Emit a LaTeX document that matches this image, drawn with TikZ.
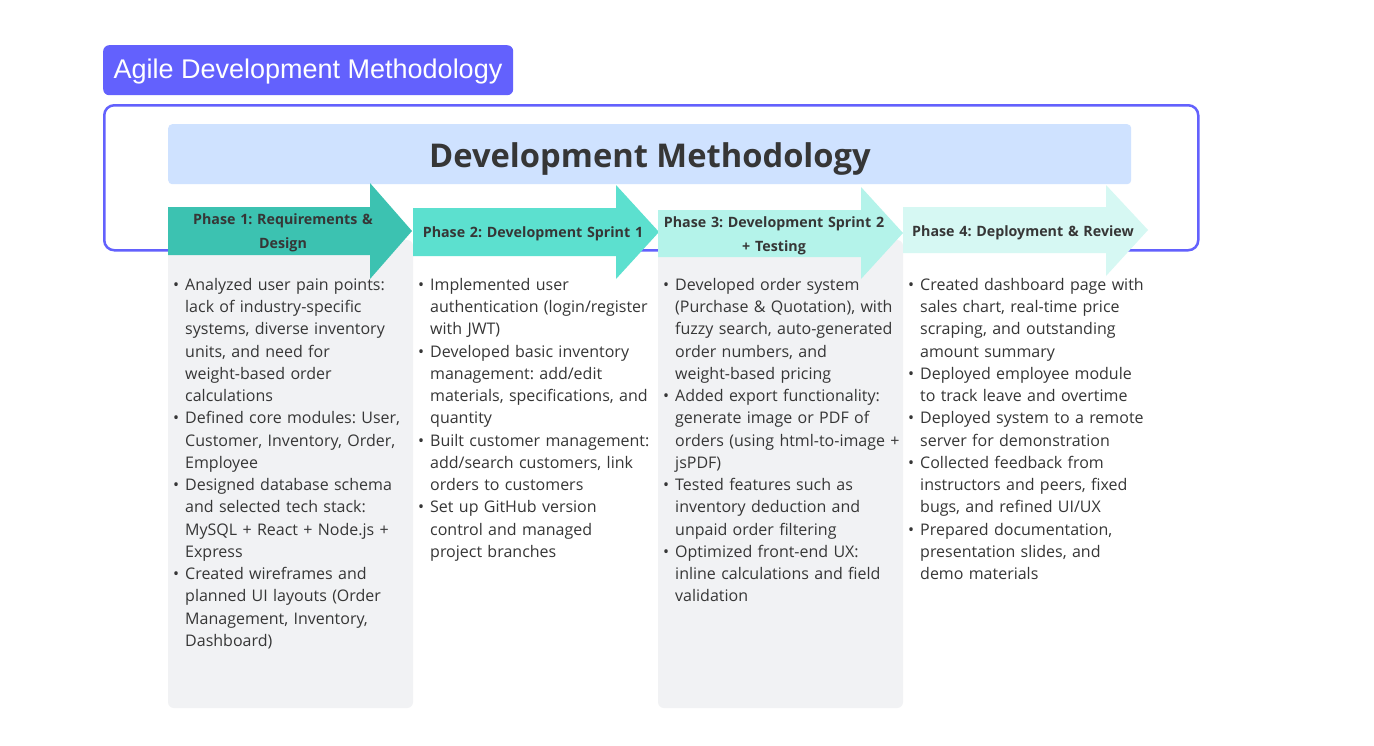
\documentclass[tikz,border=0pt]{standalone}
\usepackage{fontspec}
\setmainfont{Open Sans}
\newfontfamily\titlefont{Liberation Sans}
\definecolor{agile}{HTML}{6361FD}
\definecolor{headband}{HTML}{CFE2FF}
\definecolor{colgray}{HTML}{F1F2F4}
\definecolor{txt}{HTML}{363636}
\definecolor{arA}{HTML}{3CC2B1}
\definecolor{arB}{HTML}{5CE0CF}
\definecolor{arC}{HTML}{B4F3EA}
\definecolor{arD}{HTML}{D6F8F3}
\frenchspacing
\newcommand{\bul}[1]{\par\noindent\hangindent=12pt\hangafter=1\makebox[12pt][l]{•}#1\par}
\tikzset{
  titlebox/.style={fill=agile, rounded corners=6pt, inner sep=0pt},
  titletext/.style={text=white, font=\titlefont\fontsize{27}{30}\selectfont, inner sep=0pt},
  framebox/.style={draw=agile, line width=2.5pt, rounded corners=10pt, inner sep=0pt},
  bandbox/.style={fill=headband, rounded corners=4pt, inner sep=0pt},
  bandtext/.style={text=txt, font=\bfseries\fontsize{32.7}{36}\selectfont, inner sep=0pt},
  phaselabel/.style={text=txt, font=\bfseries\fontsize{14.25}{24}\selectfont, align=center, text width=240pt, inner sep=0pt},
  coltext/.style={text=txt, font=\fontsize{16}{22.25}\selectfont, align=left, text width=238pt, inner sep=0pt, anchor=north west},
}
\begin{document}
\begin{tikzpicture}[x=1pt,y=-1pt]
\useasboundingbox (0,0) rectangle (1374,745);
\fill[white] (0,0) rectangle (1374,745);
% title
\node[titlebox, minimum width=410pt, minimum height=50pt, anchor=north west] (title) at (103,45) {};
\node[titletext] (titlelabel) at (308,72) {Agile Development Methodology};
% frame
\node[framebox, minimum width=1094pt, minimum height=145pt, anchor=north west] (frame) at (103,104) {};
% heading band
\node[bandbox, minimum width=963pt, minimum height=60pt, anchor=north west] (band) at (168,124) {};
\node[bandtext] (bandlabel) at (650,159) {Development Methodology};
% gray columns
\fill[colgray, rounded corners=6pt] (168,240) rectangle (413,708);
\fill[colgray, rounded corners=6pt] (658,240) rectangle (903,708);
% arrows
\fill[arA] (168,207) -- (370,207) -- (370,183) -- (412,231) -- (370,279) -- (370,255) -- (168,255) -- cycle;
\fill[arB] (413,208) -- (616,208) -- (616,185) -- (659,232) -- (616,279) -- (616,256) -- (413,256) -- cycle;
\fill[arC] (658,210) -- (861,210) -- (861,187) -- (903,233) -- (861,279) -- (861,257) -- (658,257) -- cycle;
\fill[arD] (903,207) -- (1106,207) -- (1106,185) -- (1148,230) -- (1106,276) -- (1106,253) -- (903,253) -- cycle;
\node[phaselabel] (p1) at (283,233) {Phase 1: Requirements \&\\Design};
\node[phaselabel] (p2) at (533,234) {Phase 2: Development Sprint 1};
\node[phaselabel] (p3) at (774,236) {Phase 3: Development Sprint 2\\+ Testing};
\node[phaselabel] (p4) at (1023,232.5) {Phase 4: Deployment \& Review};
% column texts
\node[coltext] (c1) at (173,268) {%
\bul{Analyzed user pain points:\newline lack of industry-specific\newline systems, diverse inventory\newline units, and need for\newline weight-based order\newline calculations}
\bul{Defined core modules: User,\newline Customer, Inventory, Order,\newline Employee}
\bul{Designed database schema\newline and selected tech stack:\newline MySQL + React + Node.js +\newline Express}
\bul{Created wireframes and\newline planned UI layouts (Order\newline Management, Inventory,\newline Dashboard)}};
\node[coltext] (c2) at (418,268) {%
\bul{Implemented user\newline authentication (login/register\newline with JWT)}
\bul{Developed basic inventory\newline management: add/edit\newline materials, specifications, and\newline quantity}
\bul{Built customer management:\newline add/search customers, link\newline orders to customers}
\bul{Set up GitHub version\newline control and managed\newline project branches}};
\node[coltext] (c3) at (663,268) {%
\bul{Developed order system\newline (Purchase \& Quotation), with\newline fuzzy search, auto-generated\newline order numbers, and\newline weight-based pricing}
\bul{Added export functionality:\newline generate image or PDF of\newline orders (using html-to-image +\newline jsPDF)}
\bul{Tested features such as\newline inventory deduction and\newline unpaid order filtering}
\bul{Optimized front-end UX:\newline inline calculations and field\newline validation}};
\node[coltext] (c4) at (908,268) {%
\bul{Created dashboard page with\newline sales chart, real-time price\newline scraping, and outstanding\newline amount summary}
\bul{Deployed employee module\newline to track leave and overtime}
\bul{Deployed system to a remote\newline server for demonstration}
\bul{Collected feedback from\newline instructors and peers, fixed\newline bugs, and refined UI/UX}
\bul{Prepared documentation,\newline presentation slides, and\newline demo materials}};
\end{tikzpicture}
\end{document}
